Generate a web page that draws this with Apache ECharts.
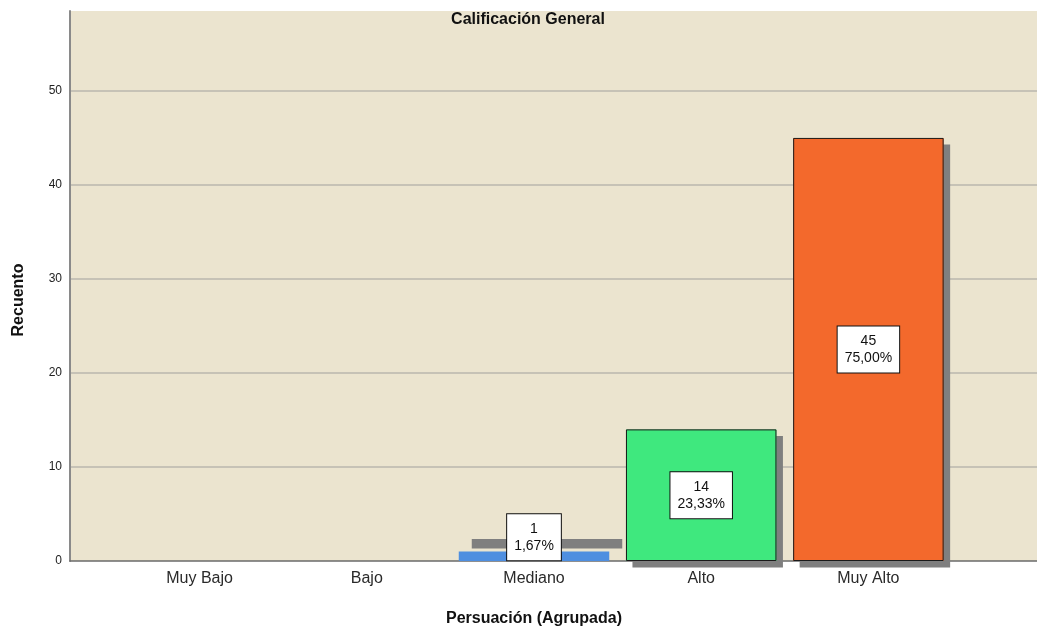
<!DOCTYPE html>
<html>
<head>
<meta charset="utf-8">
<script src="https://cdn.jsdelivr.net/npm/echarts@6/dist/echarts.min.js"></script>
<style>html,body{margin:0;padding:0;background:#fff}#c{width:1037px;height:638px}</style>
</head>
<body>
<div id="c"></div>
<script>
const categories = ['Muy Bajo', 'Bajo', 'Mediano', 'Alto', 'Muy Alto'];
const counts = [0, 0, 1, 14, 45];
const percents = ['0,00%', '0,00%', '1,67%', '23,33%', '75,00%'];
const barColors = ['#4f8fe0', '#4f8fe0', '#4f8fe0', '#3fe87e', '#f3692c'];
const yTicks = { min: 0, max: 58.5, interval: 10 };

const FONT = 'Liberation Sans, Arial, sans-serif';

// fill + shadow layer
const fillData = counts.map(function (v, i) {
  if (v === 0) return '-';
  const isSmall = v < 5;
  return {
    value: v,
    itemStyle: {
      color: barColors[i],
      borderWidth: 0,
      shadowColor: '#7f7f7f',
      shadowBlur: 0,
      shadowOffsetX: isSmall ? 13 : 6.5,
      shadowOffsetY: isSmall ? -12.5 : 6.5
    }
  };
});

// border + label layer
const outlineData = counts.map(function (v, i) {
  if (v === 0) return '-';
  const isSmall = v < 5;
  return {
    value: v,
    itemStyle: {
      color: 'rgba(0,0,0,0)',
      borderColor: isSmall ? 'rgba(0,0,0,0)' : '#1a1a1a',
      borderWidth: isSmall ? 0 : 1
    },
    label: isSmall ? { offset: [0, -19] } : {}
  };
});

const chart = echarts.init(document.getElementById('c'), null, { renderer: 'canvas' });
chart.setOption({
  animation: false,
  backgroundColor: '#ffffff',
  title: {
    text: 'Calificación General',
    left: 523,
    textAlign: 'center',
    top: 7,
    textStyle: { fontFamily: FONT, fontSize: 16, fontWeight: 'bold', color: '#111' }
  },
  grid: [
    { left: 70, right: 0, top: 11, bottom: 77, show: true, backgroundColor: '#ebe4cf', borderWidth: 0, containLabel: false },
    { left: 116, right: 85, top: 11, bottom: 77, containLabel: false }
  ],
  xAxis: [
    {
      type: 'category', gridIndex: 0, data: [''],
      axisLine: { show: true, lineStyle: { color: '#6b6b6b', width: 1.5 } },
      axisTick: { show: false }, axisLabel: { show: false }, splitLine: { show: false }
    },
    {
      type: 'category', gridIndex: 1, data: categories,
      axisLine: { show: false }, axisTick: { show: false },
      axisLabel: { fontFamily: FONT, fontSize: 16, color: '#2a2a2a', margin: 10 },
      name: 'Persuación (Agrupada)', nameLocation: 'middle', nameGap: 50,
      nameTextStyle: { fontFamily: FONT, fontSize: 16, fontWeight: 'bold', color: '#111' }
    }
  ],
  yAxis: [
    {
      type: 'value', gridIndex: 0, min: yTicks.min, max: yTicks.max, interval: yTicks.interval,
      axisLine: { show: true, lineStyle: { color: '#8a8a8a', width: 2 } },
      axisTick: { show: false },
      axisLabel: { fontFamily: FONT, fontSize: 12, color: '#222', margin: 8, showMaxLabel: false },
      splitLine: { show: true, showMaxLine: false, showMinLine: false, lineStyle: { color: '#c6c2b6', width: 2 } },
      name: 'Recuento', nameLocation: 'middle', nameGap: 43, nameRotate: 90,
      nameTextStyle: { fontFamily: FONT, fontSize: 16, fontWeight: 'bold', color: '#111', padding: [0, 28, 0, 0] }
    },
    {
      type: 'value', gridIndex: 1, min: yTicks.min, max: yTicks.max, interval: yTicks.interval,
      show: false, splitLine: { show: false }
    }
  ],
  series: [
    {
      type: 'bar', xAxisIndex: 1, yAxisIndex: 1,
      data: fillData,
      barWidth: '90%',
      barGap: '-100%',
      clip: false,
      label: { show: false },
      z: 2
    },
    {
      type: 'bar', xAxisIndex: 1, yAxisIndex: 1,
      data: outlineData,
      barWidth: '90%',
      barGap: '-100%',
      clip: false,
      z: 3,
      label: {
        show: true,
        position: 'inside',
        formatter: function (p) { return p.value + '\n' + percents[p.dataIndex]; },
        fontFamily: FONT, fontSize: 14, lineHeight: 17, color: '#111',
        backgroundColor: '#ffffff', borderColor: '#111', borderWidth: 1,
        padding: [6, 7, 6, 7]
      }
    }
  ]
});
</script>
</body>
</html>
